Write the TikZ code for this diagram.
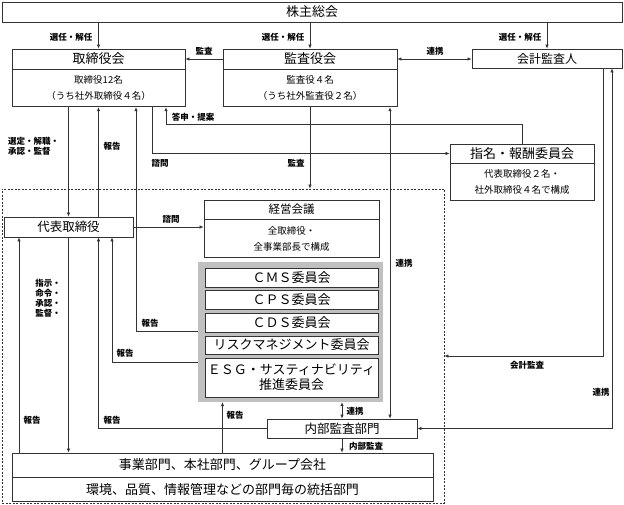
\documentclass[tikz,border=0pt]{standalone}
\usepackage{fontspec}
\setmainfont{Noto Sans CJK JP}
\usetikzlibrary{arrows.meta}
\definecolor{linegray}{HTML}{333333}
\definecolor{panelgray}{HTML}{C0C0C0}

\begin{document}
\begin{tikzpicture}[x=1pt,y=-1pt,
  box/.style={draw=linegray, line width=0.8pt, fill=white, inner sep=0pt, align=center},
  ttl/.style={box, font=\fontsize{13}{15}\selectfont},
  body/.style={box, font=\fontsize{9.5}{16}\selectfont},
  cmte/.style={box, font=\fontsize{13}{15}\selectfont, minimum width=173pt},
  lbl/.style={font=\fontsize{8.5}{10}\selectfont\bfseries, inner sep=0pt},
  arr/.style={draw=linegray, line width=0.7pt, -{Latex[length=4pt,width=3.5pt]}},
  arrb/.style={draw=linegray, line width=0.7pt, {Latex[length=4pt,width=3.5pt]}-{Latex[length=4pt,width=3.5pt]}}]
\useasboundingbox (0,0) rectangle (624,505);
% execution side
\node[draw=linegray, dash pattern=on 2pt off 1.5pt, line width=0.7pt, minimum width=442pt, minimum height=314pt, inner sep=0pt](grp) at (223,346){};
% boxes
\node[ttl, minimum width=620pt, minimum height=20pt](kabu) at (312,12){株主総会};
\node[ttl, minimum width=173pt, minimum height=20pt](tk) at (98.5,59){取締役会};
\node[body, minimum width=173pt, minimum height=37pt, anchor=north](tkb) at (tk.south){取締役12名\\（うち社外取締役４名）};
\node[ttl, minimum width=174pt, minimum height=20pt](kansa) at (310,59){監査役会};
\node[body, minimum width=174pt, minimum height=37pt, anchor=north](kansab) at (kansa.south){監査役４名\\（うち社外監査役２名）};
\node[ttl, font=\fontsize{12}{14}\selectfont, minimum width=150pt, minimum height=19pt](kaikei) at (547,58.5){会計監査人};
\node[ttl, minimum width=144pt, minimum height=19pt](shimei) at (522,153.5){指名・報酬委員会};
\node[body, minimum width=144pt, minimum height=37pt, anchor=north](shimeib) at (shimei.south){代表取締役２名・\\社外取締役４名で構成};
\node[ttl, font=\fontsize{12.5}{14}\selectfont, minimum width=129pt, minimum height=20pt](daihyo) at (68.5,227){代表取締役};
\node[ttl, font=\fontsize{11.5}{13}\selectfont, minimum width=175pt, minimum height=19pt](keiei) at (291.5,209.5){経営会議};
\node[body, minimum width=175pt, minimum height=38pt, anchor=north](keieib) at (keiei.south){全取締役・\\全事業部長で構成};
\node[fill=panelgray, inner sep=0pt, minimum width=185pt, minimum height=140pt](gray) at (290.5,332){};
\node[cmte, minimum height=19pt](cms) at (291.5,277.5){ＣＭＳ委員会};
\node[cmte, minimum height=19pt](cps) at (291.5,299.5){ＣＰＳ委員会};
\node[cmte, minimum height=19pt](cds) at (291.5,322.5){ＣＤＳ委員会};
\node[cmte, minimum height=18pt](risk) at (291.5,345){リスクマネジメント委員会};
\node[cmte, minimum height=39pt](esg) at (291.5,377.5){ＥＳＧ・サスティナビリティ\\推進委員会};
\node[ttl, font=\fontsize{12.5}{14}\selectfont, minimum width=150pt, minimum height=19pt](naibu) at (342,428.5){内部監査部門};
\node[ttl, minimum width=421pt, minimum height=24pt](jigyo) at (222.5,465){事業部門、本社部門、グループ会社};
\node[ttl, minimum width=421pt, minimum height=24pt, anchor=north](jigyob) at (jigyo.south){環境、品質、情報管理などの部門毎の統括部門};
% top
\draw[arr] (kabu.south -| tk.north) -- (tk.north);
\draw[arr] (kabu.south -| kansa.north) -- (kansa.north);
\draw[arr] (kabu.south -| kaikei.north) -- (kaikei.north);
\draw[arr] (kansa.west) -- (tk.east);
\draw[arrb] (kansa.east) -- (kansa.east -| kaikei.west);
\node[lbl](l1) at (71,37){選任・解任};
\node[lbl](l2) at (283,37){選任・解任};
\node[lbl](l3) at (520,37){選任・解任};
\node[lbl](l4) at (204,51){監査};
\node[lbl](l5) at (435,51){連携};
% board
\draw[arr] (tkb.south -| daihyo.north) -- (daihyo.north);
\draw[arr] (daihyo.north -| tkb.south) -- (tkb.south);
\draw[arr] (gray.west |- 0,331) -| (tkb.south -| 136,0);
\draw[arr] (tkb.south -| 152,0) |- (shimei.west);
\draw[arr] (shimei.north) -- ++(0,-19) -| (tkb.south -| 166,0);
\draw[arr] (kansab.south) -- (kansab.south |- grp.north);
\draw[arrb] (kansab.south -| 390,0) -- (naibu.north -| 390,0);
\draw[arr] (kaikei.south -| 603,0) |- (grp.east |- 0,356);
\draw[arrb] (naibu.east) -| (kaikei.south -| 612,0);
\node[lbl, align=left, anchor=west](l6) at (8,146){選定・解職・\\承認・監督};
\node[lbl](l7) at (112,146){報告};
\node[lbl](l8) at (193,117){答申・提案};
\node[lbl](l9) at (160,163){諮問};
\node[lbl](l10) at (296,163){監査};
\node[lbl](l11) at (404,263){連携};
\node[lbl](l12) at (527,365){会計監査};
\node[lbl](l13) at (601,392){連携};
% execution
\draw[arr] (daihyo.east) -- (daihyo.east -| keieib.west);
\draw[arr] (daihyo.south) -- (daihyo.south |- jigyo.north);
\draw[arr] (jigyo.north -| 19,0) -- (daihyo.south -| 19,0);
\draw[arr] (naibu.west) -| (daihyo.south -| tk.south);
\draw[arr] (gray.west |- 0,362) -| (daihyo.south -| 112,0);
\draw[arr] (jigyo.north) -- (jigyo.north |- gray.south);
\draw[arrb] (gray.south -| naibu.north) -- (naibu.north);
\draw[arr] (naibu.south) -- (naibu.south |- jigyo.north);
\node[lbl](l14) at (171,219){諮問};
\node[lbl, align=right, anchor=east](l15) at (61,298){指示・\\命令・\\承認・\\監督・};
\node[lbl](l16) at (150,323){報告};
\node[lbl](l17) at (125,353){報告};
\node[lbl](l18) at (32,420){報告};
\node[lbl](l19) at (112,420){報告};
\node[lbl](l20) at (235,415){報告};
\node[lbl](l21) at (355,411){連携};
\node[lbl](l22) at (366,446){内部監査};
\end{tikzpicture}
\end{document}
